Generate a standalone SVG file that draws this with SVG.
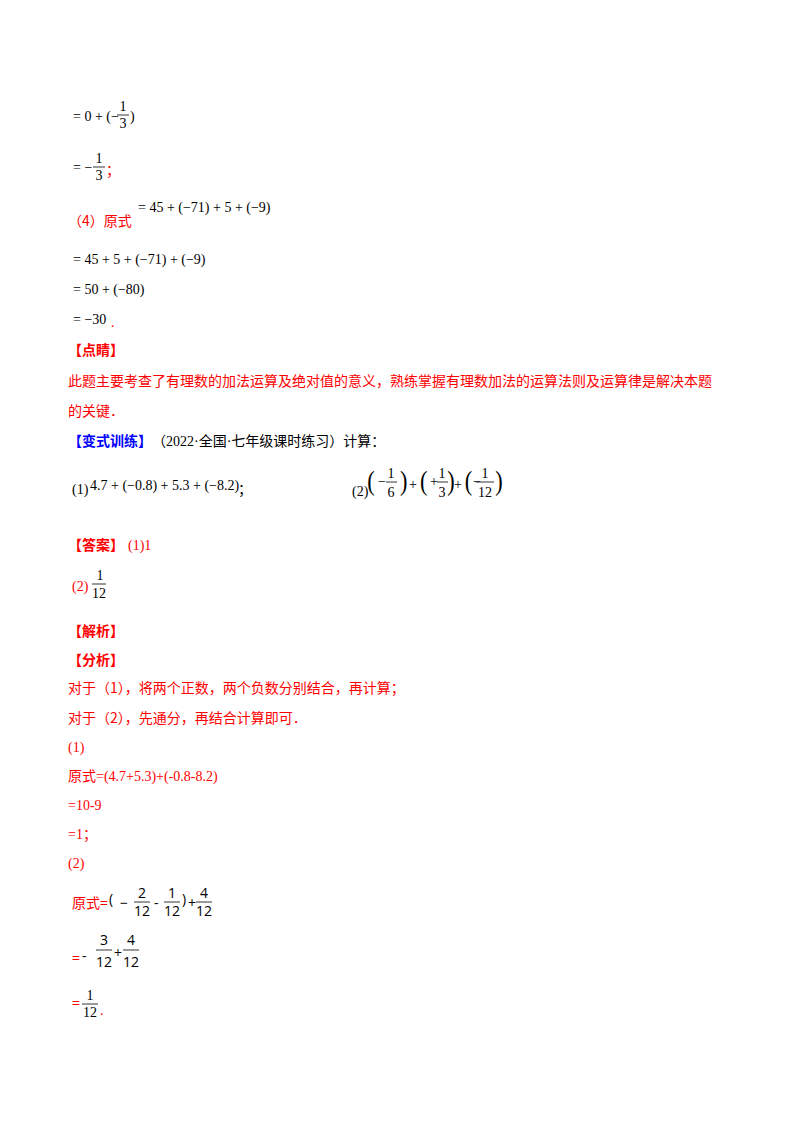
<svg xmlns="http://www.w3.org/2000/svg" width="800" height="1132" viewBox="0 0 800 1132">
<style>
.m{font-family:"Liberation Serif",serif;font-size:14px;fill:#000}
.r{font-family:"Liberation Serif","Noto Sans CJK SC",serif;font-size:14px;fill:#ff0000}
.rc{font-family:"Noto Sans CJK SC",sans-serif;font-size:14px;fill:#ff0000}
.rb{font-family:"Noto Sans CJK SC",sans-serif;font-size:14px;fill:#ff0000;font-weight:bold}
.bb{font-family:"Noto Sans CJK SC",sans-serif;font-size:14px;fill:#0000ff;font-weight:bold}
.k{font-family:"Liberation Serif","Noto Sans CJK SC",serif;font-size:14px;fill:#000}
.s{font-family:"Open Sans","Noto Sans CJK SC",sans-serif;font-size:14px;fill:#000}
.c{text-anchor:middle}
line{stroke:#000;stroke-width:0.8}
</style>
<rect width="800" height="1132" fill="#fff"/>
<text class="m" x="73" y="121">= 0 + (−</text>
<text class="m c" x="123" y="111">1</text><line x1="117" y1="115" x2="129" y2="115"/><text class="m c" x="123" y="128">3</text>
<text class="m" x="130" y="121">)</text>
<text class="m" x="73" y="172">= −</text>
<text class="m c" x="99" y="163">1</text><line x1="93" y1="167" x2="105" y2="167"/><text class="m c" x="99" y="180">3</text>
<text class="rc" x="106" y="175">；</text>
<text class="rc" x="68" y="226">（4）原式</text>
<text class="m" x="138" y="212">= 45 + (−71) + 5 + (−9)</text>
<text class="m" x="73" y="264">= 45 + 5 + (−71) + (−9)</text>
<text class="m" x="73" y="294">= 50 + (−80)</text>
<text class="m" x="73" y="324">= −30</text>
<text class="r" x="111" y="327">.</text>
<text class="rb" x="68" y="355">【点睛】</text>
<text class="rc" x="68" y="386">此题主要考查了有理数的加法运算及绝对值的意义，熟练掌握有理数加法的运算法则及运算律是解决本题</text>
<text class="rc" x="68" y="416">的关键．</text>
<text class="bb" x="68" y="446">【变式训练】</text>
<text class="k" x="152" y="446">（2022·全国·七年级课时练习）计算：</text>
<text class="m" x="72" y="494">(1)</text>
<text class="m" x="90" y="490">4.7 + (−0.8) + 5.3 + (−8.2)</text>
<text class="k" x="238" y="494">；</text>
<text class="m" x="352" y="496">(2)</text>
<g class="m">
<text x="367" y="490" font-size="28" transform="scale(0.8,1) translate(92,0)">(</text>
<text x="378" y="486">−</text><text class="m c" x="391" y="478">1</text><line x1="386" y1="482" x2="397" y2="482"/><text class="m c" x="391" y="497">6</text>
<text x="400" y="490" font-size="28" transform="scale(0.8,1) translate(100,0)">)</text>
<text x="409" y="489">+</text>
<text x="420" y="490" font-size="28" transform="scale(0.8,1) translate(105,0)">(</text>
<text x="430" y="486">+</text><text class="m c" x="442" y="478">1</text><line x1="437" y1="482" x2="448" y2="482"/><text class="m c" x="442" y="497">3</text>
<text x="447" y="490" font-size="28" transform="scale(0.8,1) translate(112,0)">)</text>
<text x="454" y="489">+</text>
<text x="465" y="490" font-size="28" transform="scale(0.8,1) translate(116,0)">(</text>
<text x="473" y="486">−</text><text class="m c" x="485" y="478">1</text><line x1="476" y1="482" x2="494" y2="482"/><text class="m c" x="485" y="497">12</text>
<text x="495" y="490" font-size="28" transform="scale(0.8,1) translate(124,0)">)</text>
</g>
<text class="rb" x="68" y="550">【答案】</text><text class="r" x="128" y="550">(1)1</text>
<text class="r" x="72" y="591">(2)</text>
<text class="m c" x="100" y="580">1</text><line x1="92" y1="584" x2="106" y2="584"/><text class="m c" x="99" y="598">12</text>
<text class="rb" x="68" y="636">【解析】</text>
<text class="rb" x="68" y="665">【分析】</text>
<text class="rc" x="68" y="693">对于（1），将两个正数，两个负数分别结合，再计算；</text>
<text class="rc" x="68" y="723">对于（2），先通分，再结合计算即可．</text>
<text class="r" x="68" y="752">(1)</text>
<text class="r" x="68" y="781">原式=(4.7+5.3)+(-0.8-8.2)</text>
<text class="r" x="68" y="810">=10-9</text>
<text class="r" x="68" y="839">=1；</text>
<text class="r" x="68" y="868">(2)</text>
<text class="rc" x="72" y="908">原式=</text>
<text class="s" x="109" y="904" font-size="11">(</text>
<text class="s" x="120" y="908">−</text>
<text class="s c" x="142" y="898">2</text><line x1="134" y1="902" x2="150" y2="902"/><text class="s c" x="142" y="916">12</text>
<text class="s" x="154" y="908">-</text>
<text class="s c" x="172" y="898">1</text><line x1="164" y1="902" x2="180" y2="902"/><text class="s c" x="172" y="916">12</text>
<text class="s" x="182" y="904" font-size="11">)</text>
<text class="s" x="188" y="908">+</text>
<text class="s c" x="204" y="898">4</text><line x1="196" y1="902" x2="212" y2="902"/><text class="s c" x="204" y="916">12</text>
<text class="rc" x="72" y="963">=</text>
<text class="s" x="82" y="961">-</text>
<text class="s c" x="104" y="945">3</text><line x1="96" y1="950" x2="112" y2="950"/><text class="s c" x="104" y="967">12</text>
<text class="s" x="114" y="958">+</text>
<text class="s c" x="131" y="945">4</text><line x1="123" y1="950" x2="139" y2="950"/><text class="s c" x="131" y="967">12</text>
<text class="rc" x="72" y="1008">=</text>
<text class="m c" x="90" y="1000">1</text><line x1="82" y1="1004" x2="98" y2="1004"/><text class="m c" x="90" y="1017">12</text>
<text class="r" x="100" y="1015">.</text>
</svg>
